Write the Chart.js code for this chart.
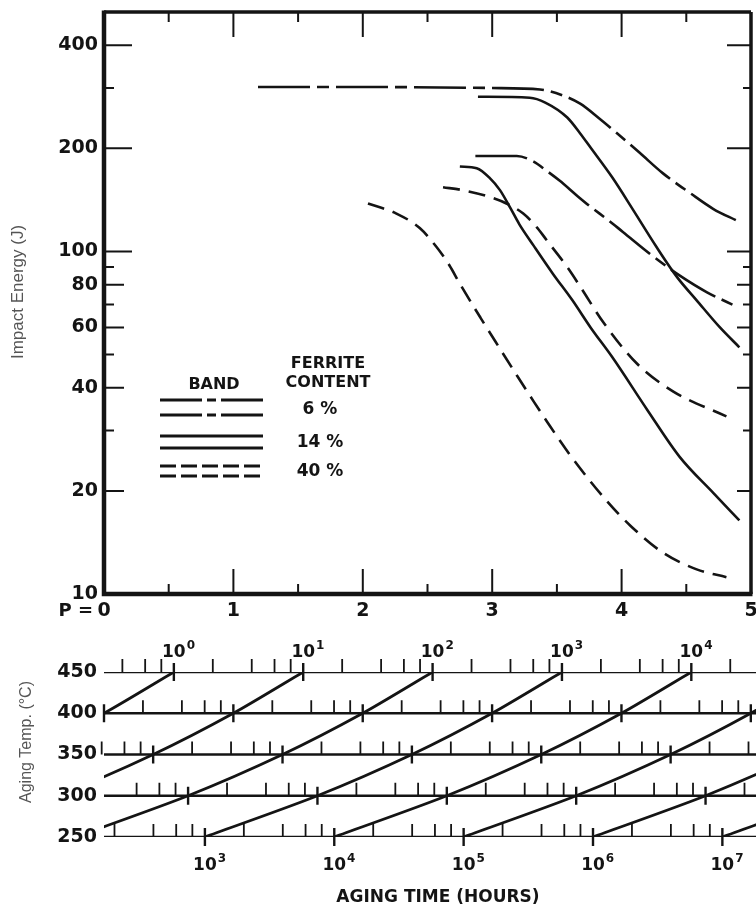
<!DOCTYPE html>
<html lang="en">
<head>
<meta charset="UTF-8">
<title>Impact Energy vs Aging Parameter</title>
<style>
  body { margin: 0; background: #fff; }
  #wrap { position: relative; width: 756px; height: 907px; }
  #topChart { position: absolute; left: 0; top: 0; }
  #nomoChart { position: absolute; left: 0; top: 620px; }
</style>
</head>
<body>
<div id="wrap">
  <canvas id="topChart" width="756" height="620"></canvas>
  <canvas id="nomoChart" width="756" height="287"></canvas>
</div>
<script src="https://cdn.jsdelivr.net/npm/chart.js"></script>
<script>
// ---- data ----
// aging parameter P (x) and impact energy in J (y), one pair of arrays per band edge
const band6UpperP = [1.19, 2.0, 3.0, 3.37, 3.55, 3.68, 3.83, 3.96, 4.14, 4.32, 4.53, 4.71, 4.89];
const band6UpperJ = [302, 302, 300, 297, 285, 270, 244, 222, 194, 169, 148, 133, 123];
const band6LowerP = [2.87, 3.19, 3.32, 3.42, 3.52, 3.66, 3.76, 3.89, 4.01, 4.24, 4.45, 4.66, 4.89];
const band6LowerJ = [190, 190, 183, 172, 161, 145, 135, 124, 114, 97, 85, 76, 69];
const band14UpperP = [2.89, 3.29, 3.41, 3.58, 3.68, 3.76, 3.93, 4.09, 4.27, 4.43, 4.58, 4.76, 4.91];
const band14UpperJ = [283, 281, 272, 246, 221, 201, 164, 132, 103, 84, 72, 60, 52.5];
const band14LowerP = [2.75, 2.88, 2.98, 3.06, 3.14, 3.21, 3.32, 3.47, 3.62, 3.76, 3.93, 4.20, 4.45, 4.71, 4.91];
const band14LowerJ = [177, 175, 164, 151, 134, 120, 104, 86, 72, 60, 49, 34.4, 25.1, 19.7, 16.4];
const band40UpperP = [2.62, 2.77, 2.96, 3.11, 3.24, 3.35, 3.42, 3.58, 3.68, 3.86, 4.12, 4.40, 4.81];
const band40UpperJ = [154, 151, 145, 138, 129, 117, 108, 90, 79, 62, 47, 39, 33];
const band40LowerP = [2.04, 2.26, 2.44, 2.57, 2.67, 2.75, 2.91, 3.06, 3.19, 3.32, 3.42, 3.6, 3.89, 4.07, 4.32, 4.58, 4.81];
const band40LowerJ = [138, 129, 117, 103, 91, 80.5, 64, 52, 43.5, 36.5, 32, 25.5, 18.6, 15.8, 13.2, 11.8, 11.2];

const ferriteLabels = ['6 %', '14 %', '40 %'];
const energyTicks = [10, 20, 40, 60, 80, 100, 200, 400];
const energyMinor = [30, 50, 70, 90, 300];
const paramTicks = [0, 1, 2, 3, 4, 5];

// nomograph: aging temperatures and the P value of 1 hour at each of them
const agingTemps = [450, 400, 350, 300, 250];
const oneHourP = [0.54, 0.0, -0.62, -1.35, -2.22];
const timeDecades = [0, 1, 2, 3, 4, 5, 6, 7];
const topTimeExps = [0, 1, 2, 3, 4];     // labelled along 450 C
const bottomTimeExps = [3, 4, 5, 6, 7];  // labelled along 250 C
const minorMultiples = [2, 4, 6, 8];

const INK = '#141414';
const BOLD = '"DejaVu Sans", sans-serif';

function pts(P, J) {
  return P.map((p, i) => ({ x: p, y: J[i] }));
}

function band(data, dash) {
  return {
    data: data,
    borderColor: INK,
    borderWidth: 2.6,
    borderDash: dash,
    pointRadius: 0,
    fill: false,
    cubicInterpolationMode: 'monotone'
  };
}

const DASH6 = [52, 7, 12, 7];
const DASH40 = [17, 9];

// ---- top chart: impact energy vs P ----
const topPlugin = {
  id: 'topDecor',
  afterDatasetsDraw(chart) {
    const { ctx, chartArea: a, scales: { x, y } } = chart;
    ctx.save();
    ctx.strokeStyle = INK;
    ctx.fillStyle = INK;

    // inward ticks on the log axis (left and right)
    ctx.lineWidth = 2;
    const yMarks = [[[400, 200, 100], 28, 24], [[80, 60, 40, 20], 20, 14], [energyMinor, 10, 8]];
    yMarks.forEach(([vals, lenL, lenR]) => {
      vals.forEach(v => {
        const py = y.getPixelForValue(v);
        ctx.beginPath();
        ctx.moveTo(a.left, py); ctx.lineTo(a.left + lenL, py);
        ctx.moveTo(a.right, py); ctx.lineTo(a.right - lenR, py);
        ctx.stroke();
      });
    });
    // inward ticks on P (top and bottom), long at integers
    for (let p = 0.5; p < 5; p += 0.5) {
      const px = x.getPixelForValue(p);
      const len = Number.isInteger(p) ? 25 : 10;
      ctx.beginPath();
      ctx.moveTo(px, a.top); ctx.lineTo(px, a.top + len);
      ctx.moveTo(px, a.bottom); ctx.lineTo(px, a.bottom - len);
      ctx.stroke();
    }

    // frame
    ctx.lineWidth = 3.5;
    ctx.beginPath();
    ctx.moveTo(a.left, a.top); ctx.lineTo(a.right, a.top);
    ctx.moveTo(a.right, a.top); ctx.lineTo(a.right, a.bottom);
    ctx.stroke();
    ctx.lineWidth = 4.5;
    ctx.beginPath();
    ctx.moveTo(a.left, a.top - 1.5); ctx.lineTo(a.left, a.bottom);
    ctx.lineTo(a.right + 1.5, a.bottom);
    ctx.stroke();

    // legend
    const dashes = [[42, 5, 9, 5], [], [16, 5]];
    const rows = [[400, 415], [436, 448], [466, 476]];
    const labelY = [410, 443, 472];
    ctx.lineWidth = 2.8;
    rows.forEach((r, i) => {
      ctx.setLineDash(dashes[i]);
      r.forEach(ly => {
        ctx.beginPath(); ctx.moveTo(160, ly); ctx.lineTo(263, ly); ctx.stroke();
      });
    });
    ctx.setLineDash([]);
    ctx.textAlign = 'center';
    ctx.textBaseline = 'middle';
    ctx.font = 'bold 16px ' + BOLD;
    ctx.fillText('BAND', 214, 385);
    ctx.fillText('FERRITE', 328, 364);
    ctx.fillText('CONTENT', 328, 383);
    ctx.font = 'bold 17px ' + BOLD;
    ferriteLabels.forEach((t, i) => ctx.fillText(t, 320, labelY[i]));

    // "P =" in front of the 0 tick label
    ctx.font = 'bold 18px ' + BOLD;
    ctx.textAlign = 'right';
    ctx.fillText('P =', 93, 611);

    // rotated y title
    ctx.fillStyle = '#555';
    ctx.font = '17px "Liberation Sans Narrow", "Liberation Sans", Arial, sans-serif';
    ctx.translate(18, 292);
    ctx.rotate(-Math.PI / 2);
    ctx.textAlign = 'center';
    ctx.fillText('Impact Energy (J)', 0, 0);
    ctx.restore();
  }
};

new Chart(document.getElementById('topChart'), {
  type: 'line',
  data: {
    datasets: [
      band(pts(band6UpperP, band6UpperJ), DASH6),
      band(pts(band6LowerP, band6LowerJ), DASH6),
      band(pts(band14UpperP, band14UpperJ), []),
      band(pts(band14LowerP, band14LowerJ), []),
      band(pts(band40UpperP, band40UpperJ), DASH40),
      band(pts(band40LowerP, band40LowerJ), DASH40)
    ]
  },
  options: {
    responsive: false,
    devicePixelRatio: 1,
    animation: false,
    layout: { padding: { left: 0, right: 5, top: 12, bottom: 0 } },
    plugins: { legend: { display: false }, tooltip: { enabled: false } },
    scales: {
      x: {
        type: 'linear', min: 0, max: 5,
        grid: { display: false, drawTicks: false },
        border: { display: false },
        afterBuildTicks: s => { s.ticks = paramTicks.map(v => ({ value: v })); },
        afterFit: s => { s.height = 26; s.paddingLeft = 0; s.paddingRight = 0; },
        ticks: { padding: 6, color: INK, font: { family: BOLD, size: 19, weight: 'bold' }, maxRotation: 0 }
      },
      y: {
        type: 'logarithmic', min: 10, max: 500,
        grid: { display: false, drawTicks: false },
        border: { display: false },
        afterBuildTicks: s => { s.ticks = energyTicks.map(v => ({ value: v })); },
        afterFit: s => { s.width = 104; s.paddingTop = 0; s.paddingBottom = 0; },
        ticks: {
          padding: 6, color: INK, autoSkip: false,
          font: { family: BOLD, size: 19, weight: 'bold' },
          callback: v => String(v)
        }
      }
    }
  },
  plugins: [topPlugin]
});

// ---- bottom nomograph: aging temperature vs time ----
const nomoSets = [];
agingTemps.forEach(T => {
  nomoSets.push({
    data: [{ x: 0, y: T }, { x: 5.04, y: T }],
    borderColor: INK, borderWidth: 2.4, pointRadius: 0
  });
});
timeDecades.forEach(k => {
  nomoSets.push({
    data: agingTemps.map((T, i) => ({ x: k + oneHourP[i], y: T })),
    borderColor: INK, borderWidth: 2.8, pointRadius: 0, tension: 0.25
  });
});

function drawPow(ctx, px, base, exp) {
  ctx.font = 'bold 17px ' + BOLD;
  ctx.textAlign = 'center';
  ctx.fillText('10', px, base);
  const w = ctx.measureText('10').width;
  ctx.font = 'bold 12px ' + BOLD;
  ctx.textAlign = 'left';
  ctx.fillText(String(exp), px + w / 2 + 1, base - 8);
}

const nomoPlugin = {
  id: 'nomoDecor',
  afterDatasetsDraw(chart) {
    const { ctx, chartArea: a, scales: { x, y } } = chart;
    ctx.save();
    ctx.strokeStyle = INK;
    ctx.fillStyle = INK;
    // log-time ticks on every temperature line
    agingTemps.forEach((T, i) => {
      const py = y.getPixelForValue(T);
      for (let k = -3; k <= 8; k++) {
        [1].concat(minorMultiples).forEach(m => {
          const p = k + Math.log10(m) + oneHourP[i];
          if (p < -0.02 || p > 5.04) return;
          const px = x.getPixelForValue(p);
          ctx.beginPath();
          if (m === 1) {
            ctx.lineWidth = 2.4;
            ctx.moveTo(px, py - 9); ctx.lineTo(px, py + 9);
          } else {
            ctx.lineWidth = 1.8;
            ctx.moveTo(px, py - 13); ctx.lineTo(px, py);
          }
          ctx.stroke();
        });
      }
    });
    // decade labels
    ctx.textBaseline = 'alphabetic';
    const yTop = y.getPixelForValue(450);
    topTimeExps.forEach(e => drawPow(ctx, x.getPixelForValue(e + oneHourP[0]), yTop - 15, e));
    const yBot = y.getPixelForValue(250);
    bottomTimeExps.forEach(e => drawPow(ctx, x.getPixelForValue(e + oneHourP[4]), yBot + 33, e));

    ctx.font = 'bold 17px ' + BOLD;
    ctx.textAlign = 'center';
    ctx.fillText('AGING TIME (HOURS)', 438, 282);

    ctx.fillStyle = '#555';
    ctx.font = '16px "Liberation Sans", Arial, sans-serif';
    ctx.translate(27, 122);
    ctx.rotate(-Math.PI / 2);
    ctx.textBaseline = 'middle';
    ctx.fillText('Aging Temp. (\u00B0C)', 0, 0);
    ctx.restore();
  }
};

new Chart(document.getElementById('nomoChart'), {
  type: 'line',
  data: { datasets: nomoSets },
  options: {
    responsive: false,
    devicePixelRatio: 1,
    animation: false,
    layout: { padding: { left: 0, right: 0, top: 52, bottom: 70 } },
    plugins: { legend: { display: false }, tooltip: { enabled: false } },
    scales: {
      x: { type: 'linear', min: 0, max: 5.04, display: false },
      y: {
        type: 'linear', min: 250, max: 450,
        grid: { display: false, drawTicks: false },
        border: { display: false },
        afterBuildTicks: s => { s.ticks = agingTemps.map(v => ({ value: v })); },
        afterFit: s => { s.width = 104; },
        ticks: { padding: 7, color: INK, autoSkip: false, font: { family: BOLD, size: 19, weight: 'bold' } }
      }
    }
  },
  plugins: [nomoPlugin]
});
</script>
</body>
</html>
